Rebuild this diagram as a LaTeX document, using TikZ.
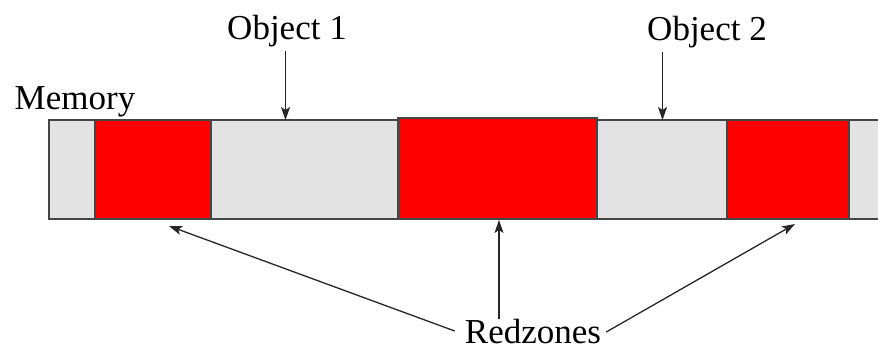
\documentclass[tikz,border=0pt]{standalone}
\usepackage{fontspec}
\setmainfont{Liberation Serif}
\usetikzlibrary{arrows.meta}
\definecolor{cellgray}{HTML}{E3E3E3}
\definecolor{zonered}{HTML}{FF0000}
\definecolor{edgegray}{HTML}{454545}
\begin{document}
\begin{tikzpicture}[x=1pt,y=1pt,
  label/.style={font=\fontsize{35}{40}\selectfont, inner sep=3pt, anchor=base},
  zone/.style={fill=zonered, draw=edgegray, line width=1.2pt},
  pointer/.style={draw=black!85, line width=1.3pt, -{Stealth[length=13pt,width=9pt,inset=3pt]}}]
  \useasboundingbox (0,0) rectangle (878,350);

  % memory strip running off the right edge
  \fill[cellgray] (49,131) rectangle (878,230);
  \draw[edgegray, line width=1.2pt] (878,230) -- (49,230) -- (49,131) -- (878,131);

  % redzones
  \node[zone, minimum width=116pt, minimum height=99pt, inner sep=0pt] (z1) at (153,180.5) {};
  \node[zone, minimum width=199pt, minimum height=101pt, inner sep=0pt] (z2) at (497.5,181.5) {};
  \node[zone, minimum width=122pt, minimum height=99pt, inner sep=0pt] (z3) at (788,180.5) {};

  % labels
  \node[label] (mem) at (75,240) {Memory};
  \node[label] (obj1) at (287,310) {Object 1};
  \node[label] (obj2) at (707,309) {Object 2};
  \node[label] (rz) at (533,6) {Redzones};

  % arrow targets
  \coordinate (t1) at (285.5,230);
  \coordinate (t2) at (662.5,230);
  \coordinate (tL) at (169,124);
  \coordinate (tM) at (499,130);
  \coordinate (tR) at (795,126);

  \draw[pointer] (obj1.south -| t1) -- (t1);
  \draw[pointer] (obj2.south -| t2) -- (t2);
  \draw[pointer] ([xshift=-7pt,yshift=1pt]rz.west) -- (tL);
  \draw[pointer] ([yshift=-2pt]rz.north -| tM) -- (tM);
  \draw[pointer] ([xshift=2pt]rz.east) -- (tR);
\end{tikzpicture}
\end{document}
